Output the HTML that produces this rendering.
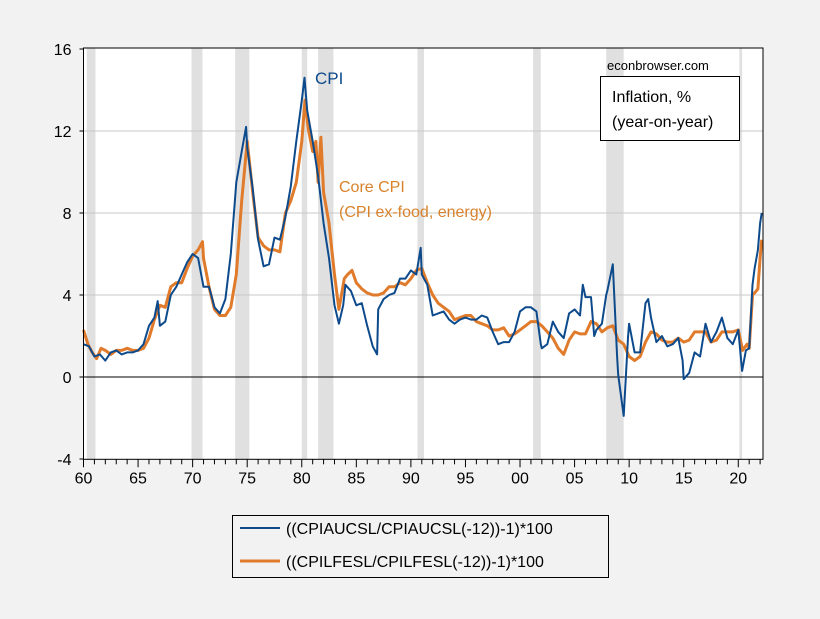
<!DOCTYPE html>
<html><head><meta charset="utf-8"><style>
html,body{margin:0;padding:0;background:#f2f2f2;}
svg{display:block;font-family:"Liberation Sans",Arial,sans-serif;}
</style></head><body>
<svg id="chart" width="820" height="619" viewBox="0 0 820 619" xmlns="http://www.w3.org/2000/svg">
<rect x="0" y="0" width="820" height="619" fill="#f2f2f2"/>
</svg>
<script>
const recessions=[[1960.3,1961.1],[1969.9,1970.9],[1973.9,1975.2],[1980.0,1980.5],[1981.5,1982.9],[1990.6,1991.2],[2001.2,2001.9],[2007.9,2009.5],[2020.1,2020.35]];
const cpiDates=[1960,1960.5,1961,1961.5,1962,1962.5,1963,1963.5,1964,1964.5,
1965,1965.5,1966,1966.5,1966.8,1967,1967.5,1968,1968.5,1969,
1969.5,1970,1970.5,1971,1971.5,1972,1972.5,1973,1973.5,1974,
1974.5,1974.9,1975,1975.5,1976,1976.5,1977,1977.5,1978,1978.5,
1979,1979.5,1980,1980.25,1980.5,1981,1981.5,1982,1982.5,1983,
1983.4,1983.8,1984,1984.5,1985,1985.5,1986,1986.5,1986.9,1987,
1987.5,1988,1988.5,1989,1989.5,1990,1990.5,1990.9,1991,1991.5,
1992,1992.5,1993,1993.5,1994,1994.5,1995,1995.5,1996,1996.5,
1997,1997.5,1998,1998.5,1999,1999.5,2000,2000.5,2001,2001.5,
2001.9,2002,2002.5,2003,2003.5,2004,2004.5,2005,2005.5,2005.75,
2006,2006.5,2006.8,2007,2007.5,2007.9,2008,2008.5,2008.9,2009,
2009.5,2009.9,2010,2010.5,2011,2011.5,2011.75,2012,2012.5,2013,
2013.5,2014,2014.5,2014.9,2015,2015.5,2016,2016.5,2017,2017.5,
2018,2018.5,2019,2019.5,2020,2020.35,2020.7,2021,2021.3,2021.5,
2021.8,2022,2022.15];
const cpiValues=[1.6,1.5,1.0,1.1,0.8,1.2,1.3,1.1,1.2,1.2,
1.3,1.6,2.5,2.9,3.7,2.5,2.7,4.0,4.4,5.0,
5.6,6.0,5.8,4.4,4.4,3.4,3.1,3.8,6.0,9.5,
11.0,12.2,11.2,9.2,6.7,5.4,5.5,6.8,6.7,7.8,
9.3,11.5,13.5,14.6,13.0,11.5,9.8,7.5,5.8,3.5,
2.6,3.5,4.5,4.2,3.5,3.6,2.5,1.5,1.1,3.3,
3.8,4.0,4.1,4.8,4.8,5.2,5.0,6.3,5.0,4.5,
3.0,3.1,3.2,2.8,2.6,2.8,2.9,2.8,2.8,3.0,
2.9,2.2,1.6,1.7,1.7,2.2,3.2,3.4,3.4,3.2,
1.6,1.4,1.6,2.7,2.2,1.9,3.1,3.3,3.0,4.5,
3.9,3.9,2.0,2.3,2.6,4.0,4.2,5.5,1.0,0.1,
-1.9,2.0,2.6,1.2,1.2,3.6,3.8,2.9,1.7,2.0,
1.5,1.6,1.9,0.8,-0.1,0.2,1.2,1.0,2.6,1.7,
2.2,2.9,1.9,1.6,2.3,0.3,1.3,1.4,4.5,5.3,
6.2,7.5,8.0];
const coreDates=[1960,1960.4,1960.8,1961.2,1961.6,1962,1962.5,1963,1963.5,1964,
1964.5,1965,1965.5,1966,1966.5,1967,1967.5,1968,1968.5,1969,
1969.5,1970,1970.5,1970.9,1971,1971.5,1972,1972.5,1973,1973.5,
1974,1974.5,1975,1975.5,1976,1976.5,1977,1977.5,1978,1978.5,
1979,1979.5,1980,1980.3,1980.6,1981,1981.3,1981.5,1981.75,1982,
1982.5,1983,1983.4,1983.9,1984.2,1984.6,1985,1985.5,1986,1986.5,
1987,1987.5,1988,1988.5,1989,1989.5,1990,1990.5,1991,1991.5,
1992,1992.5,1993,1993.5,1994,1994.5,1995,1995.5,1996,1996.5,
1997,1997.5,1998,1998.5,1999,1999.5,2000,2000.5,2001,2001.5,
2002,2002.5,2003,2003.5,2004,2004.5,2005,2005.5,2006,2006.5,
2007,2007.5,2008,2008.5,2009,2009.5,2010,2010.5,2011,2011.5,
2012,2012.5,2013,2013.5,2014,2014.5,2015,2015.5,2016,2016.5,
2017,2017.5,2018,2018.5,2019,2019.5,
2020,2020.4,2020.8,2021,2021.3,2021.5,2021.8,2022,2022.15];
const coreValues=[2.3,1.6,1.2,0.9,1.4,1.3,1.1,1.3,1.3,1.4,
1.3,1.3,1.4,1.9,2.8,3.5,3.4,4.4,4.6,4.6,
5.3,5.9,6.2,6.6,5.8,4.4,3.3,3.0,3.0,3.4,
5.0,8.6,11.5,9.0,6.8,6.4,6.2,6.2,6.1,8.0,
8.6,9.5,11.5,13.5,12.1,11.0,11.5,9.5,11.7,9.0,
7.5,5.0,3.3,4.8,5.0,5.2,4.6,4.3,4.1,4.0,
4.0,4.1,4.4,4.4,4.6,4.5,4.8,5.2,5.3,4.6,
4.0,3.6,3.4,3.2,2.8,2.9,3.0,3.0,2.7,2.6,
2.5,2.3,2.3,2.4,2.0,2.1,2.3,2.5,2.7,2.7,
2.5,2.2,1.9,1.4,1.1,1.8,2.2,2.1,2.1,2.7,
2.6,2.2,2.4,2.5,1.8,1.6,1.0,0.8,1.0,1.7,
2.2,2.1,1.8,1.7,1.7,1.9,1.7,1.8,2.2,2.2,
2.2,1.7,1.8,2.2,2.2,2.2,
2.3,1.3,1.6,1.4,4.0,4.1,4.3,5.8,6.7];
const yTicks=[16,12,8,4,0,-4];
const yTickLabels=["16","12","8","4","0","-4"];
const xTickYears=[1960,1965,1970,1975,1980,1985,1990,1995,2000,2005,2010,2015,2020];
const xTickLabels=["60","65","70","75","80","85","90","95","00","05","10","15","20"];

const L=83.5,R=763,T=48,B=459.3;
const x=t=>L+(t-1960)*10.913;
const y=v=>377-v*20.5;
const NS="http://www.w3.org/2000/svg";
const svg=document.getElementById('chart');
function mk(tag,attrs,parent){const e=document.createElementNS(NS,tag);for(const k in attrs)e.setAttribute(k,attrs[k]);(parent||svg).appendChild(e);return e;}

const bg=mk('rect',{x:L,y:T,width:R-L,height:B-T,fill:'#ffffff'});


recessions.forEach(r=>{
  const e=mk('rect',{x:x(r[0]),y:T,width:x(r[1])-x(r[0]),height:B-T,fill:'#e0e0e0'});
  
  
});
yTicks.forEach((v,i)=>{
  if(v!==0&&v!==16&&v!==-4){
    const g=mk('line',{x1:L,x2:R,y1:y(v),y2:y(v),stroke:'#c8c8c8','stroke-width':1});
    
    
  }
  const tk=mk('line',{x1:L-4,x2:L,y1:y(v),y2:y(v),stroke:'#000'});
  
  
  const t=mk('text',{x:L-12,y:y(v)+6,'text-anchor':'end','font-size':16,fill:'#000'});
  t.textContent=yTickLabels[i];
  
  
});
const zl=mk('line',{x1:L,x2:R,y1:y(0),y2:y(0),stroke:'#000','stroke-width':1});


for(let yr=1960;yr<=2022;yr++){
  const major=xTickYears.indexOf(yr)>=0;
  const tk=mk('line',{x1:x(yr),x2:x(yr),y1:B,y2:B+(major?8:5),stroke:'#000'});
  
  
}
xTickYears.forEach((yr,i)=>{
  const t=mk('text',{x:x(yr),y:B+24,'text-anchor':'middle','font-size':16,fill:'#000'});
  t.textContent=xTickLabels[i];
  
  
});
function path(d,v){const n=Math.min(d.length,v.length);let s='';for(let i=0;i<n;i++)s+=(i?'L':'M')+x(d[i]).toFixed(1)+','+y(v[i]).toFixed(1);return s;}
const core=mk('path',{d:path(coreDates,coreValues),fill:'none',stroke:'#e07b2c','stroke-width':3,'stroke-linejoin':'round'});


const cpi=mk('path',{d:path(cpiDates,cpiValues),fill:'none',stroke:'#0d4a8c','stroke-width':2,'stroke-linejoin':'round'});


const fr=mk('rect',{x:L,y:T,width:R-L,height:B-T,fill:'none',stroke:'#000','stroke-width':1});


</script>
<svg style="position:absolute;left:0;top:0" width="820" height="619">
<text x="315" y="84" font-size="17" fill="#0d4a8c">CPI</text>
<text x="339" y="192" font-size="16" fill="#d9822b">Core CPI</text>
<text x="339" y="217" font-size="16" fill="#d9822b">(CPI ex-food, energy)</text>
<text x="607" y="70" font-size="13" fill="#000">econbrowser.com</text>
<rect x="600.5" y="76.5" width="139" height="64" fill="#fff" stroke="#000"/>
<text x="612" y="102" font-size="16" fill="#000">Inflation, %</text>
<text x="612" y="127" font-size="16" fill="#000">(year-on-year)</text>
<g>
<rect x="232.5" y="515.5" width="376" height="62" fill="#f2f2f2" stroke="#000"/>
<line x1="240" x2="280" y1="528" y2="528" stroke="#0d4a8c" stroke-width="2"/>
<text x="286" y="534" font-size="16" fill="#000">((CPIAUCSL/CPIAUCSL(-12))-1)*100</text>
<line x1="240" x2="280" y1="561" y2="561" stroke="#e07b2c" stroke-width="3"/>
<text x="286" y="567" font-size="16" fill="#000">((CPILFESL/CPILFESL(-12))-1)*100</text>
</g>
</svg>
</body></html>
